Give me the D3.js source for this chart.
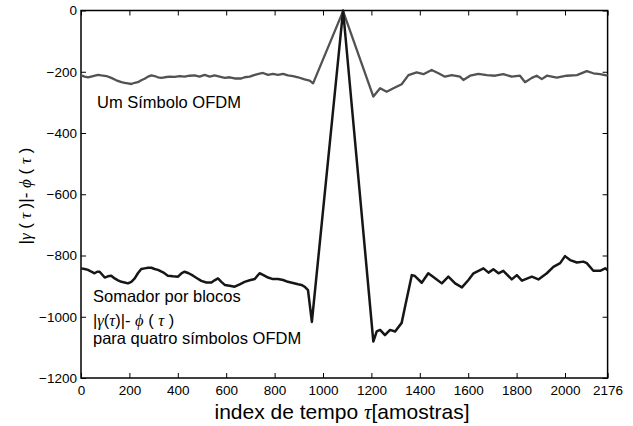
<!DOCTYPE html>
<html>
<head>
<meta charset="utf-8">
<script src="https://cdn.jsdelivr.net/npm/d3@7"></script>
<style>
  body { margin: 0; background: #fff; }
  svg text { font-family: "Liberation Sans", Arial, sans-serif; }
  .axis line { stroke: #000; }
  .axis text { font-size: 13.5px; fill: #000; font-family: "Liberation Sans", Arial, sans-serif; }
  svg text tspan.greek { font-family: "Liberation Serif", "Times New Roman", serif; font-style: italic; }
</style>
</head>
<body>
<div id="chart"></div>
<script>
// tick values
const xTicks = [0, 200, 400, 600, 800, 1000, 1200, 1400, 1600, 1800, 2000, 2176];
const yTicks = [0, -200, -400, -600, -800, -1000, -1200];

// one OFDM symbol (grey line)
const umX = [0, 15, 29, 50, 70, 84, 105, 125, 146, 167, 180, 194, 208, 222, 235, 249, 263, 277, 291, 304,
  318, 332, 346, 366, 387, 408, 428, 449, 470, 490, 511, 532, 552, 573, 594, 614, 635, 662, 676, 697,
  718, 738, 752, 773, 793, 814, 835, 855, 876, 897, 924, 945, 959,
  1083, 1208, 1236, 1263, 1291, 1325, 1353, 1387, 1415, 1449, 1477, 1504, 1532, 1566, 1580, 1608, 1642, 1677,
  1711, 1745, 1780, 1814, 1835, 1863, 1883, 1904, 1925, 1966, 2007, 2049, 2090, 2117, 2145, 2176];
const umY = [-212, -216, -218, -214, -210, -212, -214, -220, -228, -234, -236, -238, -240, -236, -234, -228, -223, -216, -212, -214,
  -218, -220, -218, -216, -217, -214, -216, -213, -212, -216, -210, -216, -212, -216, -220, -218, -222, -222, -218, -216,
  -210, -206, -204, -210, -207, -210, -207, -212, -214, -218, -225, -229, -238,
  -2, -281, -254, -265, -254, -241, -211, -202, -208, -194, -205, -216, -211, -216, -227, -213, -207, -211,
  -213, -208, -216, -213, -234, -220, -213, -224, -213, -219, -213, -211, -198, -205, -208, -213];

// block summer over four OFDM symbols (black line)
const somaX = [0, 15, 29, 43, 56, 67, 77, 87, 98, 111, 125, 139, 153, 167, 180, 194, 208, 222, 235, 249,
  263, 277, 291, 304, 318, 339, 359, 380, 401, 415, 428, 445, 463, 481, 497, 518, 539, 552, 566, 580,
  594, 614, 635, 656, 676, 697, 718, 729, 738, 752, 773, 793, 814, 835, 855, 876, 897, 911, 924, 938, 954,
  1083, 1208, 1222, 1236, 1256, 1277, 1298, 1325, 1339, 1367, 1380, 1408, 1435, 1463, 1491, 1518, 1546, 1574,
  1601, 1622, 1663, 1684, 1704, 1725, 1745, 1780, 1801, 1822, 1863, 1890, 1925, 1952, 1980, 2000, 2021,
  2049, 2076, 2090, 2117, 2145, 2166, 2176];
const somaY = [-842, -844, -847, -853, -858, -853, -853, -862, -872, -868, -866, -875, -881, -886, -888, -891, -886, -875, -858, -844,
  -842, -840, -840, -844, -847, -855, -866, -868, -869, -858, -853, -858, -866, -875, -883, -888, -888, -881, -875, -886,
  -896, -899, -902, -894, -886, -881, -877, -866, -858, -863, -872, -877, -877, -880, -886, -890, -894, -896, -902, -913, -1017,
  0, -1081, -1048, -1043, -1060, -1043, -1048, -1020, -967, -864, -867, -889, -858, -874, -891, -869, -891, -904,
  -880, -858, -842, -856, -845, -858, -850, -878, -864, -882, -869, -878, -858, -837, -825, -802, -815,
  -823, -820, -825, -850, -850, -842, -847];

const WIDTH = 633, HEIGHT = 426;
const LEFT = 81, RIGHT = 607.6, TOP = 10.5, BOTTOM = 378;

const svg = d3.select("#chart").append("svg")
  .attr("width", WIDTH).attr("height", HEIGHT);

const x = d3.scaleLinear().domain([0, 2176]).range([LEFT, RIGHT]);
const y = d3.scaleLinear().domain([-1200, 0]).range([BOTTOM, TOP]);

// ticks point inward, on all four sides
svg.append("g").attr("class", "axis")
  .attr("transform", `translate(0,${BOTTOM})`)
  .call(d3.axisBottom(x).tickValues(xTicks).tickSize(-5).tickPadding(7).tickFormat(d3.format("d")))
  .call(g => g.select(".domain").remove());
svg.append("g").attr("class", "axis")
  .attr("transform", `translate(0,${TOP})`)
  .call(d3.axisTop(x).tickValues(xTicks).tickSize(-5).tickFormat(""))
  .call(g => g.select(".domain").remove());
svg.append("g").attr("class", "axis")
  .attr("transform", `translate(${LEFT},0)`)
  .call(d3.axisLeft(y).tickValues(yTicks).tickSize(-5).tickPadding(4).tickFormat(d3.format("d")))
  .call(g => g.select(".domain").remove());
svg.append("g").attr("class", "axis")
  .attr("transform", `translate(${RIGHT},0)`)
  .call(d3.axisRight(y).tickValues(yTicks).tickSize(-5).tickFormat(""))
  .call(g => g.select(".domain").remove());

svg.selectAll(".axis").attr("font-family", null);

svg.append("rect")
  .attr("x", LEFT).attr("y", TOP)
  .attr("width", RIGHT - LEFT).attr("height", BOTTOM - TOP)
  .attr("fill", "none").attr("stroke", "#000").attr("stroke-width", 1.5);

const line = d3.line().x(d => x(d[0])).y(d => y(d[1]));

svg.append("path")
  .datum(d3.zip(umX, umY))
  .attr("d", line)
  .attr("fill", "none").attr("stroke", "#525252").attr("stroke-width", 2.3)
  .attr("stroke-linejoin", "round");

svg.append("path")
  .datum(d3.zip(somaX, somaY))
  .attr("d", line)
  .attr("fill", "none").attr("stroke", "#161616").attr("stroke-width", 2.5)
  .attr("stroke-linejoin", "round");

// annotations
svg.append("text").attr("x", 97).attr("y", 108)
  .style("font-size", "16.5px").text("Um Símbolo OFDM");

svg.append("text").attr("x", 93).attr("y", 302)
  .style("font-size", "16.5px").text("Somador por blocos");

const t2 = svg.append("text").attr("x", 93).attr("y", 326).style("font-size", "16.5px");
t2.append("tspan").text("|");
t2.append("tspan").attr("class", "greek").text("γ");
t2.append("tspan").text("(");
t2.append("tspan").attr("class", "greek").text("τ");
t2.append("tspan").text(")|- ");
t2.append("tspan").attr("class", "greek").text("ϕ");
t2.append("tspan").text(" ( ");
t2.append("tspan").attr("class", "greek").text("τ");
t2.append("tspan").text(" )");

svg.append("text").attr("x", 93).attr("y", 344)
  .style("font-size", "16.5px").text("para quatro símbolos OFDM");

// x label
const xl = svg.append("text").attr("x", 342).attr("y", 419)
  .attr("text-anchor", "middle").style("font-size", "21px");
xl.append("tspan").text("index de tempo ");
xl.append("tspan").attr("class", "greek").text("τ");
xl.append("tspan").text("[amostras]");

// y label
const yl = svg.append("text")
  .attr("transform", `translate(31,196) rotate(-90)`)
  .attr("text-anchor", "middle").style("font-size", "17px");
yl.append("tspan").text("|");
yl.append("tspan").attr("class", "greek").text("γ");
yl.append("tspan").text(" (");
yl.append("tspan").attr("class", "greek").text(" τ ");
yl.append("tspan").text(")|- ");
yl.append("tspan").attr("class", "greek").text("ϕ");
yl.append("tspan").text(" ( ");
yl.append("tspan").attr("class", "greek").text("τ");
yl.append("tspan").text(" )");
</script>
</body>
</html>
